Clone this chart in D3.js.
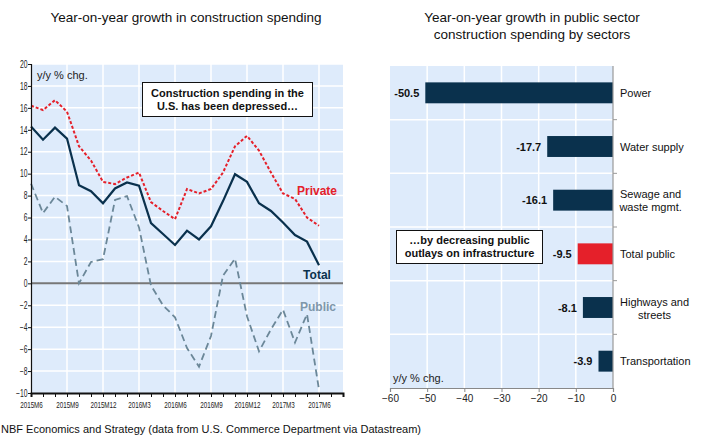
<!DOCTYPE html>
<html>
<head>
<meta charset="utf-8">
<script src="https://cdn.jsdelivr.net/npm/d3@7"></script>
<style>
  body { margin: 0; background: #fff; }
  svg { display: block; font-family: Arial, "Liberation Sans", sans-serif; }
</style>
</head>
<body>
<svg id="chart" width="701" height="437"></svg>
<script>
// ---------- Data (left chart) ----------
const months = ["2015M6","2015M7","2015M8","2015M9","2015M10","2015M11","2015M12",
  "2016M1","2016M2","2016M3","2016M4","2016M5","2016M6","2016M7","2016M8","2016M9","2016M10","2016M11","2016M12",
  "2017M1","2017M2","2017M3","2017M4","2017M5","2017M6"];
const totalSeries   = [14.3,13.1,14.2,13.2,8.95,8.4,7.3, 8.65,9.2,8.9,5.5,4.5,3.5,4.8,4.0,5.2,7.5,9.95,9.25, 7.3,6.6,5.55,4.4,3.8,1.65];
const privateSeries = [16.2,15.8,16.7,15.65,12.5,11.2,9.25, 9.05,9.65,10.1,7.4,6.6,5.85,8.6,8.2,8.6,10.1,12.5,13.45, 12.1,10.1,8.2,7.7,6.0,5.25];
const publicSeries  = [9.1,6.4,7.9,7.05,0.0,1.95,2.2, 7.6,7.95,5.1,-0.2,-2.0,-3.1,-5.9,-7.6,-4.8,0.7,2.25,-3.0, -6.2,-4.2,-2.4,-5.4,-2.8,-9.7];
const xTickLabels = ["2015M6","2015M9","2015M12","2016M3","2016M6","2016M9","2016M12","2017M3","2017M6"];
const yTicksLeft = [20,18,16,14,12,10,8,6,4,2,0,-2,-4,-6,-8,-10];

// ---------- Data (right chart) ----------
const sectors = ["Power","Water supply","Sewage and|waste mgmt.","Total public","Highways and|streets","Transportation"];
const sectorValues = [-50.5,-17.7,-16.1,-9.5,-8.1,-3.9];
const xTicksRight = [-60,-50,-40,-30,-20,-10,0];

const svg = d3.select("#chart");
const BG = "#deebfb";
const NAVY = "#0a314d";
const RED = "#e5202a";
const PUB = "#6b8798";

// ================= LEFT CHART =================
const L = {x0: 31, x1: 343, y0: 64, y1: 393};
const xL = d3.scaleLinear().domain([0, 26]).range([L.x0, L.x1]);
const yL = d3.scaleLinear().domain([-10, 20]).range([L.y1, L.y0]);

svg.append("text").attr("x", 186).attr("y", 22).attr("text-anchor", "middle")
  .attr("font-size", 13.5).attr("fill", "#111").text("Year-on-year growth in construction spending");

const gL = svg.append("g");
gL.append("rect").attr("x", L.x0).attr("y", L.y0).attr("width", L.x1 - L.x0).attr("height", L.y1 - L.y0).attr("fill", BG);

// horizontal gridlines
gL.selectAll("line.hg").data(yTicksLeft.filter(d => d !== 0 && d !== -10)).enter().append("line")
  .attr("x1", L.x0).attr("x2", L.x1).attr("y1", d => yL(d)).attr("y2", d => yL(d))
  .attr("stroke", "#fff").attr("stroke-width", 1.5);
// vertical gridlines every 3 months
const vIdx = d3.range(3, 26, 3);
gL.selectAll("line.vg").data(vIdx).enter().append("line")
  .attr("x1", d => xL(d)).attr("x2", d => xL(d)).attr("y1", L.y0).attr("y2", L.y1)
  .attr("stroke", "#fff").attr("stroke-width", 1.5);

// zero line
gL.append("line").attr("x1", L.x0).attr("x2", L.x1).attr("y1", yL(0)).attr("y2", yL(0))
  .attr("stroke", "#777").attr("stroke-width", 2);

// y axis
const yAxisL = d3.axisLeft(yL).tickValues(yTicksLeft).tickSize(3).tickPadding(2);
const ya = svg.append("g").attr("transform", `translate(${L.x0},0)`).call(yAxisL);
ya.select(".domain").attr("stroke", "#111").attr("stroke-width", 1.2);
ya.selectAll(".tick line").attr("stroke", "#111");
ya.selectAll(".tick text").attr("font-family", "Arial, 'Liberation Sans', sans-serif")
  .attr("font-size", 10).attr("fill", "#222").attr("transform", "scale(0.68,1)");

// x axis
const xAxisL = d3.axisBottom(xL).tickValues(d3.range(0, 27)).tickSize(4)
  .tickFormat(d => (d % 3 === 0 && d / 3 < xTickLabels.length) ? xTickLabels[d / 3] : "");
const xa = svg.append("g").attr("transform", `translate(0,${L.y1})`).call(xAxisL);
xa.select(".domain").attr("stroke", "#111").attr("stroke-width", 2);
xa.selectAll(".tick line").attr("stroke", "#111");
xa.selectAll(".tick text").attr("font-family", "Arial, 'Liberation Sans', sans-serif")
  .attr("font-size", 9.5).attr("fill", "#222").attr("dy", "0.85em").attr("transform", "scale(0.66,1)");

// lines
const line = d3.line().x((d, i) => xL(i)).y(d => yL(d));
gL.append("path").datum(publicSeries).attr("d", line).attr("fill", "none")
  .attr("stroke", PUB).attr("stroke-width", 1.8).attr("stroke-dasharray", "7,4");
gL.append("path").datum(privateSeries).attr("d", line).attr("fill", "none")
  .attr("stroke", RED).attr("stroke-width", 2).attr("stroke-dasharray", "3,2");
gL.append("path").datum(totalSeries).attr("d", line).attr("fill", "none")
  .attr("stroke", NAVY).attr("stroke-width", 2.2).attr("stroke-linejoin", "miter");

// series labels
gL.append("text").attr("x", 317).attr("y", 195).attr("text-anchor", "middle")
  .attr("font-size", 12).attr("font-weight", "bold").attr("fill", RED).text("Private");
gL.append("text").attr("x", 317).attr("y", 279).attr("text-anchor", "middle")
  .attr("font-size", 12).attr("font-weight", "bold").attr("fill", NAVY).text("Total");
gL.append("text").attr("x", 318).attr("y", 311).attr("text-anchor", "middle")
  .attr("font-size", 12).attr("font-weight", "bold").attr("fill", "#7e97aa").text("Public");

gL.append("text").attr("x", 37).attr("y", 79).attr("font-size", 11).attr("fill", "#222").text("y/y % chg.");

// annotation box left
gL.append("rect").attr("x", 142.5).attr("y", 82.5).attr("width", 170).attr("height", 34)
  .attr("fill", "#fff").attr("stroke", "#111").attr("stroke-width", 1);
gL.append("text").attr("x", 227.5).attr("y", 97).attr("text-anchor", "middle")
  .attr("font-size", 11).attr("font-weight", "bold").attr("fill", "#111").text("Construction spending in the");
gL.append("text").attr("x", 227.5).attr("y", 110).attr("text-anchor", "middle")
  .attr("font-size", 11).attr("font-weight", "bold").attr("fill", "#111").text("U.S. has been depressed…");

// ================= RIGHT CHART =================
const R = {x0: 390, x1: 613, y0: 66, y1: 388};
const xR = d3.scaleLinear().domain([-60, 0]).range([R.x0, R.x1]);
const yR = d3.scaleBand().domain(sectors).range([R.y0, R.y1]).paddingInner(0.61).paddingOuter(0.305);

svg.append("text").attr("x", 532).attr("y", 22).attr("text-anchor", "middle")
  .attr("font-size", 13.5).attr("fill", "#111").text("Year-on-year growth in public sector");
svg.append("text").attr("x", 532).attr("y", 39).attr("text-anchor", "middle")
  .attr("font-size", 13.5).attr("fill", "#111").text("construction spending by sectors");

const gR = svg.append("g");
gR.append("rect").attr("x", R.x0).attr("y", R.y0).attr("width", R.x1 - R.x0).attr("height", R.y1 - R.y0).attr("fill", BG);

// vertical gridlines
gR.selectAll("line.vg").data(xTicksRight.filter(d => d !== 0 && d !== -60)).enter().append("line")
  .attr("x1", d => xR(d)).attr("x2", d => xR(d)).attr("y1", R.y0).attr("y2", R.y1)
  .attr("stroke", "#fff").attr("stroke-width", 1.5);
// band boundaries
const step = yR.step();
const bounds = d3.range(1, sectors.length).map(k => R.y0 + k * step);
gR.selectAll("line.hg").data(bounds).enter().append("line")
  .attr("x1", R.x0).attr("x2", R.x1 + 4).attr("y1", d => d).attr("y2", d => d)
  .attr("stroke", "#fff").attr("stroke-width", 1.5);
gR.selectAll("line.ht").data(bounds).enter().append("line")
  .attr("x1", R.x1).attr("x2", R.x1 + 4).attr("y1", d => d).attr("y2", d => d)
  .attr("stroke", "#999").attr("stroke-width", 1);

// bars
gR.selectAll("rect.bar").data(sectors).enter().append("rect")
  .attr("x", (d, i) => xR(sectorValues[i]))
  .attr("width", (d, i) => xR(0) - xR(sectorValues[i]))
  .attr("y", d => yR(d)).attr("height", yR.bandwidth())
  .attr("fill", d => d === "Total public" ? RED : NAVY);

// value labels
gR.selectAll("text.val").data(sectors).enter().append("text")
  .attr("x", (d, i) => xR(sectorValues[i]) - 6)
  .attr("y", d => yR(d) + yR.bandwidth() / 2 + 4)
  .attr("text-anchor", "end").attr("font-size", 11).attr("font-weight", "bold").attr("fill", "#111")
  .text((d, i) => sectorValues[i].toFixed(1));

// right axis line
gR.append("line").attr("x1", R.x1).attr("x2", R.x1).attr("y1", R.y0).attr("y2", R.y1)
  .attr("stroke", "#999").attr("stroke-width", 1.2);

// category labels
sectors.forEach((s, i) => {
  const parts = s.split("|");
  const cy = yR(s) + yR.bandwidth() / 2;
  if (parts.length === 1) {
    gR.append("text").attr("x", 620).attr("y", cy + 4).attr("font-size", 11).attr("fill", "#111").text(s);
  } else {
    const t1 = gR.append("text").attr("x", 620).attr("y", cy - 2).attr("font-size", 11).attr("fill", "#111").text(parts[0]);
    const w = t1.node().getComputedTextLength();
    gR.append("text").attr("x", 620 + w / 2).attr("y", cy + 11).attr("text-anchor", "middle")
      .attr("font-size", 11).attr("fill", "#111").text(parts[1]);
  }
});

// x axis right
const xAxisR = d3.axisBottom(xR).tickValues(xTicksRight).tickSize(4).tickPadding(3);
const xr = svg.append("g").attr("transform", `translate(0,${R.y1})`).call(xAxisR);
xr.select(".domain").attr("stroke", "#888").attr("stroke-width", 1.2);
xr.selectAll(".tick line").attr("stroke", "#888");
xr.selectAll(".tick text").attr("font-size", 10).attr("fill", "#222");

gR.append("text").attr("x", 393).attr("y", 382).attr("font-size", 11).attr("fill", "#222").text("y/y % chg.");

// annotation box right
gR.append("rect").attr("x", 396.5).attr("y", 230.5).attr("width", 146).attr("height", 33)
  .attr("fill", "#fff").attr("stroke", "#111").attr("stroke-width", 1);
gR.append("text").attr("x", 469.5).attr("y", 244).attr("text-anchor", "middle")
  .attr("font-size", 11).attr("font-weight", "bold").attr("fill", "#111").text("…by decreasing public");
gR.append("text").attr("x", 469.5).attr("y", 257).attr("text-anchor", "middle")
  .attr("font-size", 11).attr("font-weight", "bold").attr("fill", "#111").text("outlays on infrastructure");

// source
svg.append("text").attr("x", 1).attr("y", 433).attr("font-size", 11).attr("fill", "#111")
  .text("NBF Economics and Strategy (data from U.S. Commerce Department via Datastream)");
</script>
</body>
</html>
